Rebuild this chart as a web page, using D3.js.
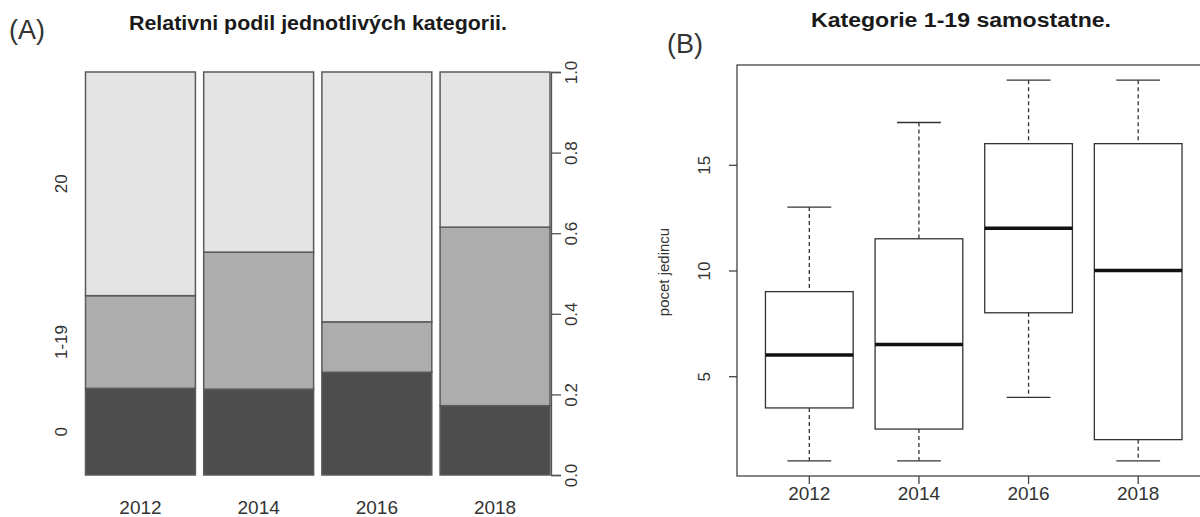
<!DOCTYPE html>
<html>
<head>
<meta charset="utf-8">
<script src="https://cdn.jsdelivr.net/npm/d3@7"></script>
<style>
  body { margin: 0; background: #fff; }
  text { font-family: "Liberation Sans", Arial, sans-serif; }
</style>
</head>
<body>
<svg id="chart"></svg>
<script>
var years = ["2012", "2014", "2016", "2018"];

// left panel: relative shares per category
var share0   = [0.215, 0.213, 0.255, 0.172];
var share119 = [0.230, 0.340, 0.125, 0.443];
var share20  = [0.555, 0.447, 0.620, 0.385];
var catLabels = ["0", "1-19", "20"];
var shareTicks = [0, 0.2, 0.4, 0.6, 0.8, 1.0];

// right panel: boxplot stats for category 1-19
var whiskLo = [1, 1, 4, 1];
var q1      = [3.5, 2.5, 8, 2];
var med     = [6, 6.5, 12, 10];
var q3      = [9, 11.5, 16, 16];
var whiskHi = [13, 17, 19, 19];
var countTicks = [5, 10, 15];

var w = 1200, h = 517;
var svg = d3.select("#chart").attr("width", w).attr("height", h);

var fills = ["#4d4d4d", "#adadad", "#e4e4e4"];
var txt = "#333";

// ---------- panel A ----------
var rows = years.map(function(y, i) {
  return { year: y, c0: share0[i], c1: share119[i], c2: share20[i] };
});
var stack = d3.stack().keys(["c0", "c1", "c2"])(rows);

var xA = d3.scaleBand().domain(years).range([85.5, 550]).paddingInner(0.07).paddingOuter(0);
var yA = d3.scaleLinear().domain([0, 1]).range([475, 72]);

var gA = svg.append("g");
gA.selectAll("g.layer").data(stack).enter().append("g")
  .attr("class", "layer")
  .attr("fill", function(d, i) { return fills[i]; })
  .selectAll("rect").data(function(d) { return d; }).enter().append("rect")
  .attr("x", function(d) { return xA(d.data.year); })
  .attr("width", xA.bandwidth())
  .attr("y", function(d) { return yA(d[1]); })
  .attr("height", function(d) { return yA(d[0]) - yA(d[1]); })
  .attr("stroke", "#5a5a5a")
  .attr("stroke-width", 1.5);

// right axis of A
var axR = gA.append("g").attr("transform", "translate(551,0)")
  .call(d3.axisRight(yA).tickValues(shareTicks).tickSize(10).tickFormat(d3.format(".1f")));
axR.select(".domain").attr("stroke", "#555").attr("stroke-width", 1.3);
axR.selectAll(".tick line").attr("stroke", "#555").attr("stroke-width", 1.3);
axR.selectAll(".tick text")
  .attr("x", 0).attr("y", 0).attr("dy", null)
  .attr("transform", "translate(20,0) rotate(-90)")
  .attr("text-anchor", "middle").attr("dominant-baseline", "central")
  .attr("font-size", 17).attr("fill", txt);

// category labels on the left, at middle of first bar's segments
gA.selectAll("text.cat").data(stack).enter().append("text")
  .attr("class", "cat")
  .attr("transform", function(d) {
    var s = d[0];
    return "translate(61," + yA((s[0] + s[1]) / 2) + ") rotate(-90)";
  })
  .attr("text-anchor", "middle").attr("dominant-baseline", "central")
  .attr("font-size", 17).attr("fill", txt)
  .text(function(d, i) { return catLabels[i]; });

gA.selectAll("text.yr").data(years).enter().append("text")
  .attr("class", "yr")
  .attr("x", function(d) { return xA(d) + xA.bandwidth() / 2; })
  .attr("y", 514)
  .attr("text-anchor", "middle")
  .attr("font-size", 19).attr("fill", txt)
  .text(function(d) { return d; });

svg.append("text").attr("x", 318).attr("y", 30)
  .attr("text-anchor", "middle").attr("font-weight", "bold")
  .attr("font-size", 20).attr("fill", "#1a1a1a")
  .attr("textLength", 378).attr("lengthAdjust", "spacingAndGlyphs")
  .text("Relativni podil jednotlivých kategorii.");
svg.append("text").attr("x", 9).attr("y", 39)
  .attr("font-size", 27).attr("fill", txt).text("(A)");

// ---------- panel B ----------
var xB = d3.scaleBand().domain(years).range([754.5, 1193]).paddingInner(0.2).paddingOuter(0.1);
var yB = d3.scaleLinear().domain([0.28, 19.72]).range([476, 65]);
var boxes = years.map(function(y, i) {
  return { year: y, lo: whiskLo[i], q1: q1[i], med: med[i], q3: q3[i], hi: whiskHi[i] };
});

var gB = svg.append("g");
var bw = xB.bandwidth();
var bx = gB.selectAll("g.box").data(boxes).enter().append("g")
  .attr("class", "box")
  .attr("transform", function(d) { return "translate(" + (xB(d.year) + bw / 2) + ",0)"; });

bx.append("line").attr("x1", 0).attr("x2", 0)
  .attr("y1", function(d) { return yB(d.hi); }).attr("y2", function(d) { return yB(d.q3); })
  .attr("stroke", "#333").attr("stroke-width", 1.3).attr("stroke-dasharray", "4,3");
bx.append("line").attr("x1", 0).attr("x2", 0)
  .attr("y1", function(d) { return yB(d.q1); }).attr("y2", function(d) { return yB(d.lo); })
  .attr("stroke", "#333").attr("stroke-width", 1.3).attr("stroke-dasharray", "4,3");
bx.append("line").attr("x1", -bw / 4).attr("x2", bw / 4)
  .attr("y1", function(d) { return yB(d.hi); }).attr("y2", function(d) { return yB(d.hi); })
  .attr("stroke", "#333").attr("stroke-width", 1.3);
bx.append("line").attr("x1", -bw / 4).attr("x2", bw / 4)
  .attr("y1", function(d) { return yB(d.lo); }).attr("y2", function(d) { return yB(d.lo); })
  .attr("stroke", "#333").attr("stroke-width", 1.3);
bx.append("rect").attr("x", -bw / 2).attr("width", bw)
  .attr("y", function(d) { return yB(d.q3); })
  .attr("height", function(d) { return yB(d.q1) - yB(d.q3); })
  .attr("fill", "#fff").attr("stroke", "#333").attr("stroke-width", 1.3);
bx.append("line").attr("x1", -bw / 2).attr("x2", bw / 2)
  .attr("y1", function(d) { return yB(d.med); }).attr("y2", function(d) { return yB(d.med); })
  .attr("stroke", "#111").attr("stroke-width", 3.5);

// frame
gB.append("rect").attr("x", 737).attr("y", 65).attr("width", 1210 - 737).attr("height", 476 - 65)
  .attr("fill", "none").attr("stroke", "#444").attr("stroke-width", 1.3);

var axL = gB.append("g").attr("transform", "translate(737,0)")
  .call(d3.axisLeft(yB).tickValues(countTicks).tickSize(8));
axL.select(".domain").remove();
axL.selectAll(".tick line").attr("stroke", "#444").attr("stroke-width", 1.3);
axL.selectAll(".tick text")
  .attr("x", 0).attr("y", 0).attr("dy", null)
  .attr("transform", "translate(-33,0) rotate(-90)")
  .attr("text-anchor", "middle").attr("dominant-baseline", "central")
  .attr("font-size", 17).attr("fill", txt);

var axX = gB.append("g").attr("transform", "translate(0,476)")
  .call(d3.axisBottom(xB).tickSize(8));
axX.select(".domain").remove();
axX.selectAll(".tick line").attr("stroke", "#444").attr("stroke-width", 1.3);
axX.selectAll(".tick text").attr("y", 24).attr("dy", null)
  .attr("font-size", 19).attr("fill", txt);

gB.append("text").attr("transform", "translate(663,272) rotate(-90)")
  .attr("text-anchor", "middle").attr("dominant-baseline", "central")
  .attr("font-size", 15).attr("fill", txt).text("pocet jedincu");

svg.append("text").attr("x", 961).attr("y", 27)
  .attr("text-anchor", "middle").attr("font-weight", "bold")
  .attr("font-size", 20).attr("fill", "#1a1a1a")
  .attr("textLength", 300).attr("lengthAdjust", "spacingAndGlyphs")
  .text("Kategorie 1-19 samostatne.");
svg.append("text").attr("x", 667).attr("y", 53)
  .attr("font-size", 27).attr("fill", txt).text("(B)");
</script>
</body>
</html>
